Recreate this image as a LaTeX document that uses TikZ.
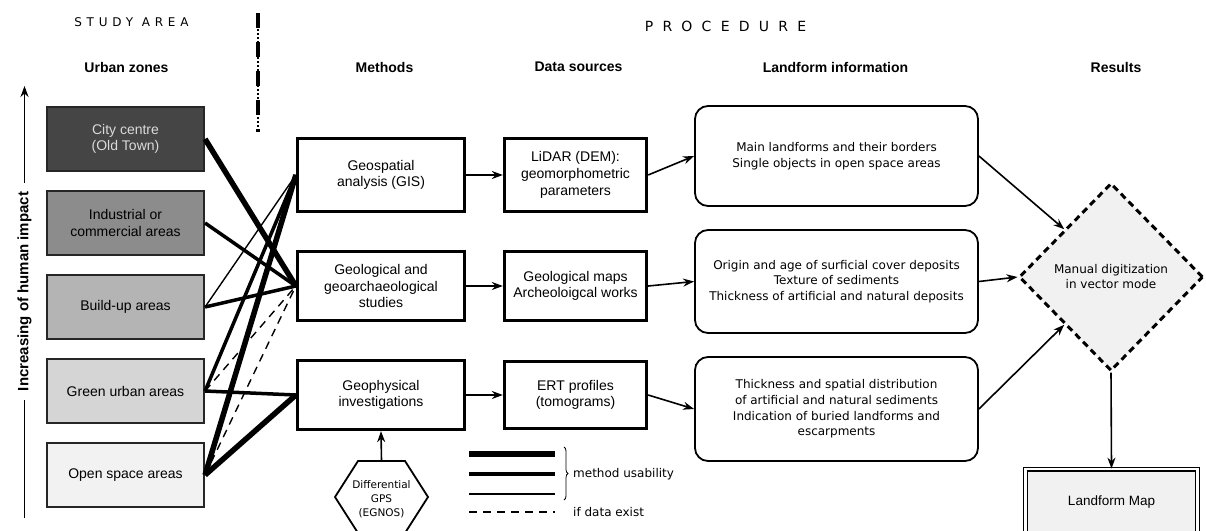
\documentclass[tikz,border=0pt]{standalone}
\usepackage{fontspec}
\setmainfont{Liberation Sans}
\newfontfamily\dv{DejaVu Sans}
\newfontfamily\spacedA[LetterSpace=40]{DejaVu Sans}
\newfontfamily\spacedB[LetterSpace=66]{DejaVu Sans}
\usetikzlibrary{arrows.meta,shapes.geometric,decorations.pathreplacing}
\definecolor{zc1}{HTML}{454545}
\definecolor{zt1}{HTML}{DADADA}
\definecolor{zc2}{HTML}{8C8C8C}
\definecolor{zc3}{HTML}{B4B4B4}
\definecolor{zc4}{HTML}{D5D5D5}
\definecolor{zc5}{HTML}{F2F2F2}
\definecolor{lightfill}{HTML}{F1F1F1}
\begin{document}
\begin{tikzpicture}[x=1pt,y=-1pt,
  arr/.style={line width=1.6pt,-{Stealth[length=11pt,width=8pt]}},
  zone/.style={draw=black!85,line width=1.6pt,minimum width=157.5pt,minimum height=64.5pt,align=center,inner sep=0pt,font=\fontsize{14}{16.7}\selectfont},
  meth/.style={draw,line width=2.8pt,minimum width=167.5pt,align=center,inner sep=0pt,font=\fontsize{14}{16.7}\selectfont},
  dsrc/.style={meth,minimum width=142.5pt},
  info/.style={draw,rounded corners=13pt,line width=1.8pt,minimum width=283pt,align=center,inner sep=0pt,font=\dv\fontsize{12}{15.6}\selectfont},
  hdr/.style={font=\bfseries\fontsize{14}{16}\selectfont,inner sep=0pt},
  usehi/.style={line width=5.5pt},
  usemid/.style={line width=3.5pt},
  uselo/.style={line width=1.4pt},
  usedsh/.style={line width=1.4pt,dash pattern=on 8pt off 6pt},
  legtext/.style={anchor=west,inner sep=0pt,font=\dv\fontsize{12}{14}\selectfont}
]
\useasboundingbox (0,0) rectangle (1206,530);
\clip (0,0) rectangle (1206,530);
\fill[white] (0,0) rectangle (1206,530);

% titles
\node[inner sep=0pt,font=\spacedA\fontsize{12}{14}\selectfont] (study) at (131.4,22.5) {STUDY AREA};
\node[inner sep=0pt,font=\spacedB\fontsize{14}{16}\selectfont] (proc) at (725.5,26) {PROCEDURE};
\draw[line width=1.2pt,dash pattern=on 1.5pt off 2.5pt] (258,13) -- (258,132);
\draw[line width=3.5pt,dash pattern=on 15pt off 14pt] (258,13) -- (258,132);

% headers
\node[hdr] (h1) at (126.5,67) {Urban zones};
\node[hdr] (h2) at (384.5,67) {Methods};
\node[hdr] (h3) at (578.5,67) {Data sources};
\node[hdr] (h4) at (835.5,67) {Landform information};
\node[hdr] (h5) at (1116,67) {Results};

% left axis
\node[rotate=90,inner xsep=9pt,inner ysep=0pt,font=\bfseries\fontsize{15}{17}\selectfont] (incr) at (24.5,291.5) {Increasing of human impact};
\coordinate (axtop) at (24.5,86);
\coordinate (axbot) at (24.5,518);
\draw[line width=1.6pt] (axbot) -- (incr.west);
\draw[arr] (incr.east) -- (axtop);

% urban zones
\node[zone,fill=zc1,text=zt1] (city) at (125.5,139) {City centre\\(Old Town)};
\node[zone,fill=zc2] (indu) at (125.5,223) {Industrial or\\commercial areas};
\node[zone,fill=zc3] (build) at (125.5,307) {Build-up areas};
\node[zone,fill=zc4] (green) at (125.5,391) {Green urban areas};
\node[zone,fill=zc5] (open) at (125.5,475) {Open space areas};

% methods
\node[meth,minimum height=73.5pt] (gis) at (381,175) {Geospatial\\analysis (GIS)};
\node[meth,minimum height=69pt] (geol) at (381,286) {Geological and\\geoarchaeological\\studies};
\node[meth,minimum height=69.5pt] (geoph) at (381,395) {Geophysical\\investigations};

% data sources
\node[dsrc,minimum height=73.5pt] (lidar) at (575.5,175) {LiDAR (DEM):\\geomorphometric\\parameters};
\node[dsrc,minimum height=68.5pt] (gmaps) at (575.5,286) {Geological maps\\Archeoloigcal works};
\node[dsrc,minimum height=67.5pt] (ert) at (575.5,395) {ERT profiles\\(tomograms)};

% landform information
\node[info,minimum height=100pt] (inf1) at (836.5,156) {Main landforms and their borders\\Single objects in open space areas};
\node[info,minimum height=103pt] (inf2) at (836.5,281.5) {Origin and age of surficial cover deposits\\Texture of sediments\\Thickness of artificial and natural deposits};
\node[info,minimum height=104pt] (inf3) at (836.5,409) {Thickness and spatial distribution\\of artificial and natural sediments\\Indication of buried landforms and\\escarpments};

% results
\node[diamond,draw,fill=lightfill,line width=3pt,dash pattern=on 6.5pt off 4.5pt,minimum width=184pt,minimum height=188pt,inner sep=0pt,align=center,font=\dv\fontsize{12}{15}\selectfont] (dig) at (1111,277) {Manual digitization\\in vector mode};
\node[draw,double=white,double distance=2.4pt,line width=1.2pt,fill=lightfill,minimum width=172pt,minimum height=65.5pt,inner sep=0pt,font=\fontsize{13.5}{15}\selectfont] (map) at (1111.5,502) {Landform Map};

% GPS hexagon
\draw[line width=1.8pt] (358,461) -- (405,461) -- (428,497) -- (405,533) -- (358,533) -- (335,497) -- cycle;
\node[inner sep=0pt,align=center,font=\dv\fontsize{10.5}{14}\selectfont] (gps) at (381.5,499) {Differential\\GPS\\(EGNOS)};
\coordinate (gpstop) at (381.5,461);

% zone -> method connectors
\draw[usehi] (city.east) -- (geol.west);
\draw[usemid] (indu.east) -- (geol.west);
\draw[uselo] (build.east) -- (gis.west);
\draw[usemid] (build.east) -- (geol.west);
\draw[usemid] (green.east) -- (gis.west);
\draw[usedsh] (green.east) -- (geol.west);
\draw[usemid] (green.east) -- (geoph.west);
\draw[usehi] (open.east) -- (gis.west);
\draw[usedsh] (open.east) -- (geol.west);
\draw[usehi] (open.east) -- (geoph.west);

% flow arrows
\draw[arr] (gis.east) -- (lidar.west);
\draw[arr] (geol.east) -- (gmaps.west);
\draw[arr] (geoph.east) -- (ert.west);
\draw[arr] (lidar.east) -- (inf1.west);
\draw[arr] (gmaps.east) -- (inf2.west);
\draw[arr] (ert.east) -- (inf3.west);
\draw[arr] (inf1.east) -- (dig.north west);
\draw[arr] (inf2.east) -- (dig.west);
\draw[arr] (inf3.east) -- (dig.south west);
\draw[arr] (dig.south) -- (map.north);
\draw[arr] (gpstop) -- (geoph.south);

% legend
\draw[line width=6pt] (469,454) -- (555,454);
\draw[line width=4.5pt] (469,474) -- (555,474);
\draw[line width=1.8pt] (469,494) -- (555,494);
\draw[line width=1.5pt,dash pattern=on 8pt off 6pt] (469,512) -- (555,512);
\draw[decorate,decoration={brace,amplitude=4pt},line width=0.8pt] (564,447) -- (564,500);
\node[legtext] (mu) at (573,474) {method usability};
\node[legtext] (ide) at (573,512) {if data exist};
\end{tikzpicture}
\end{document}
